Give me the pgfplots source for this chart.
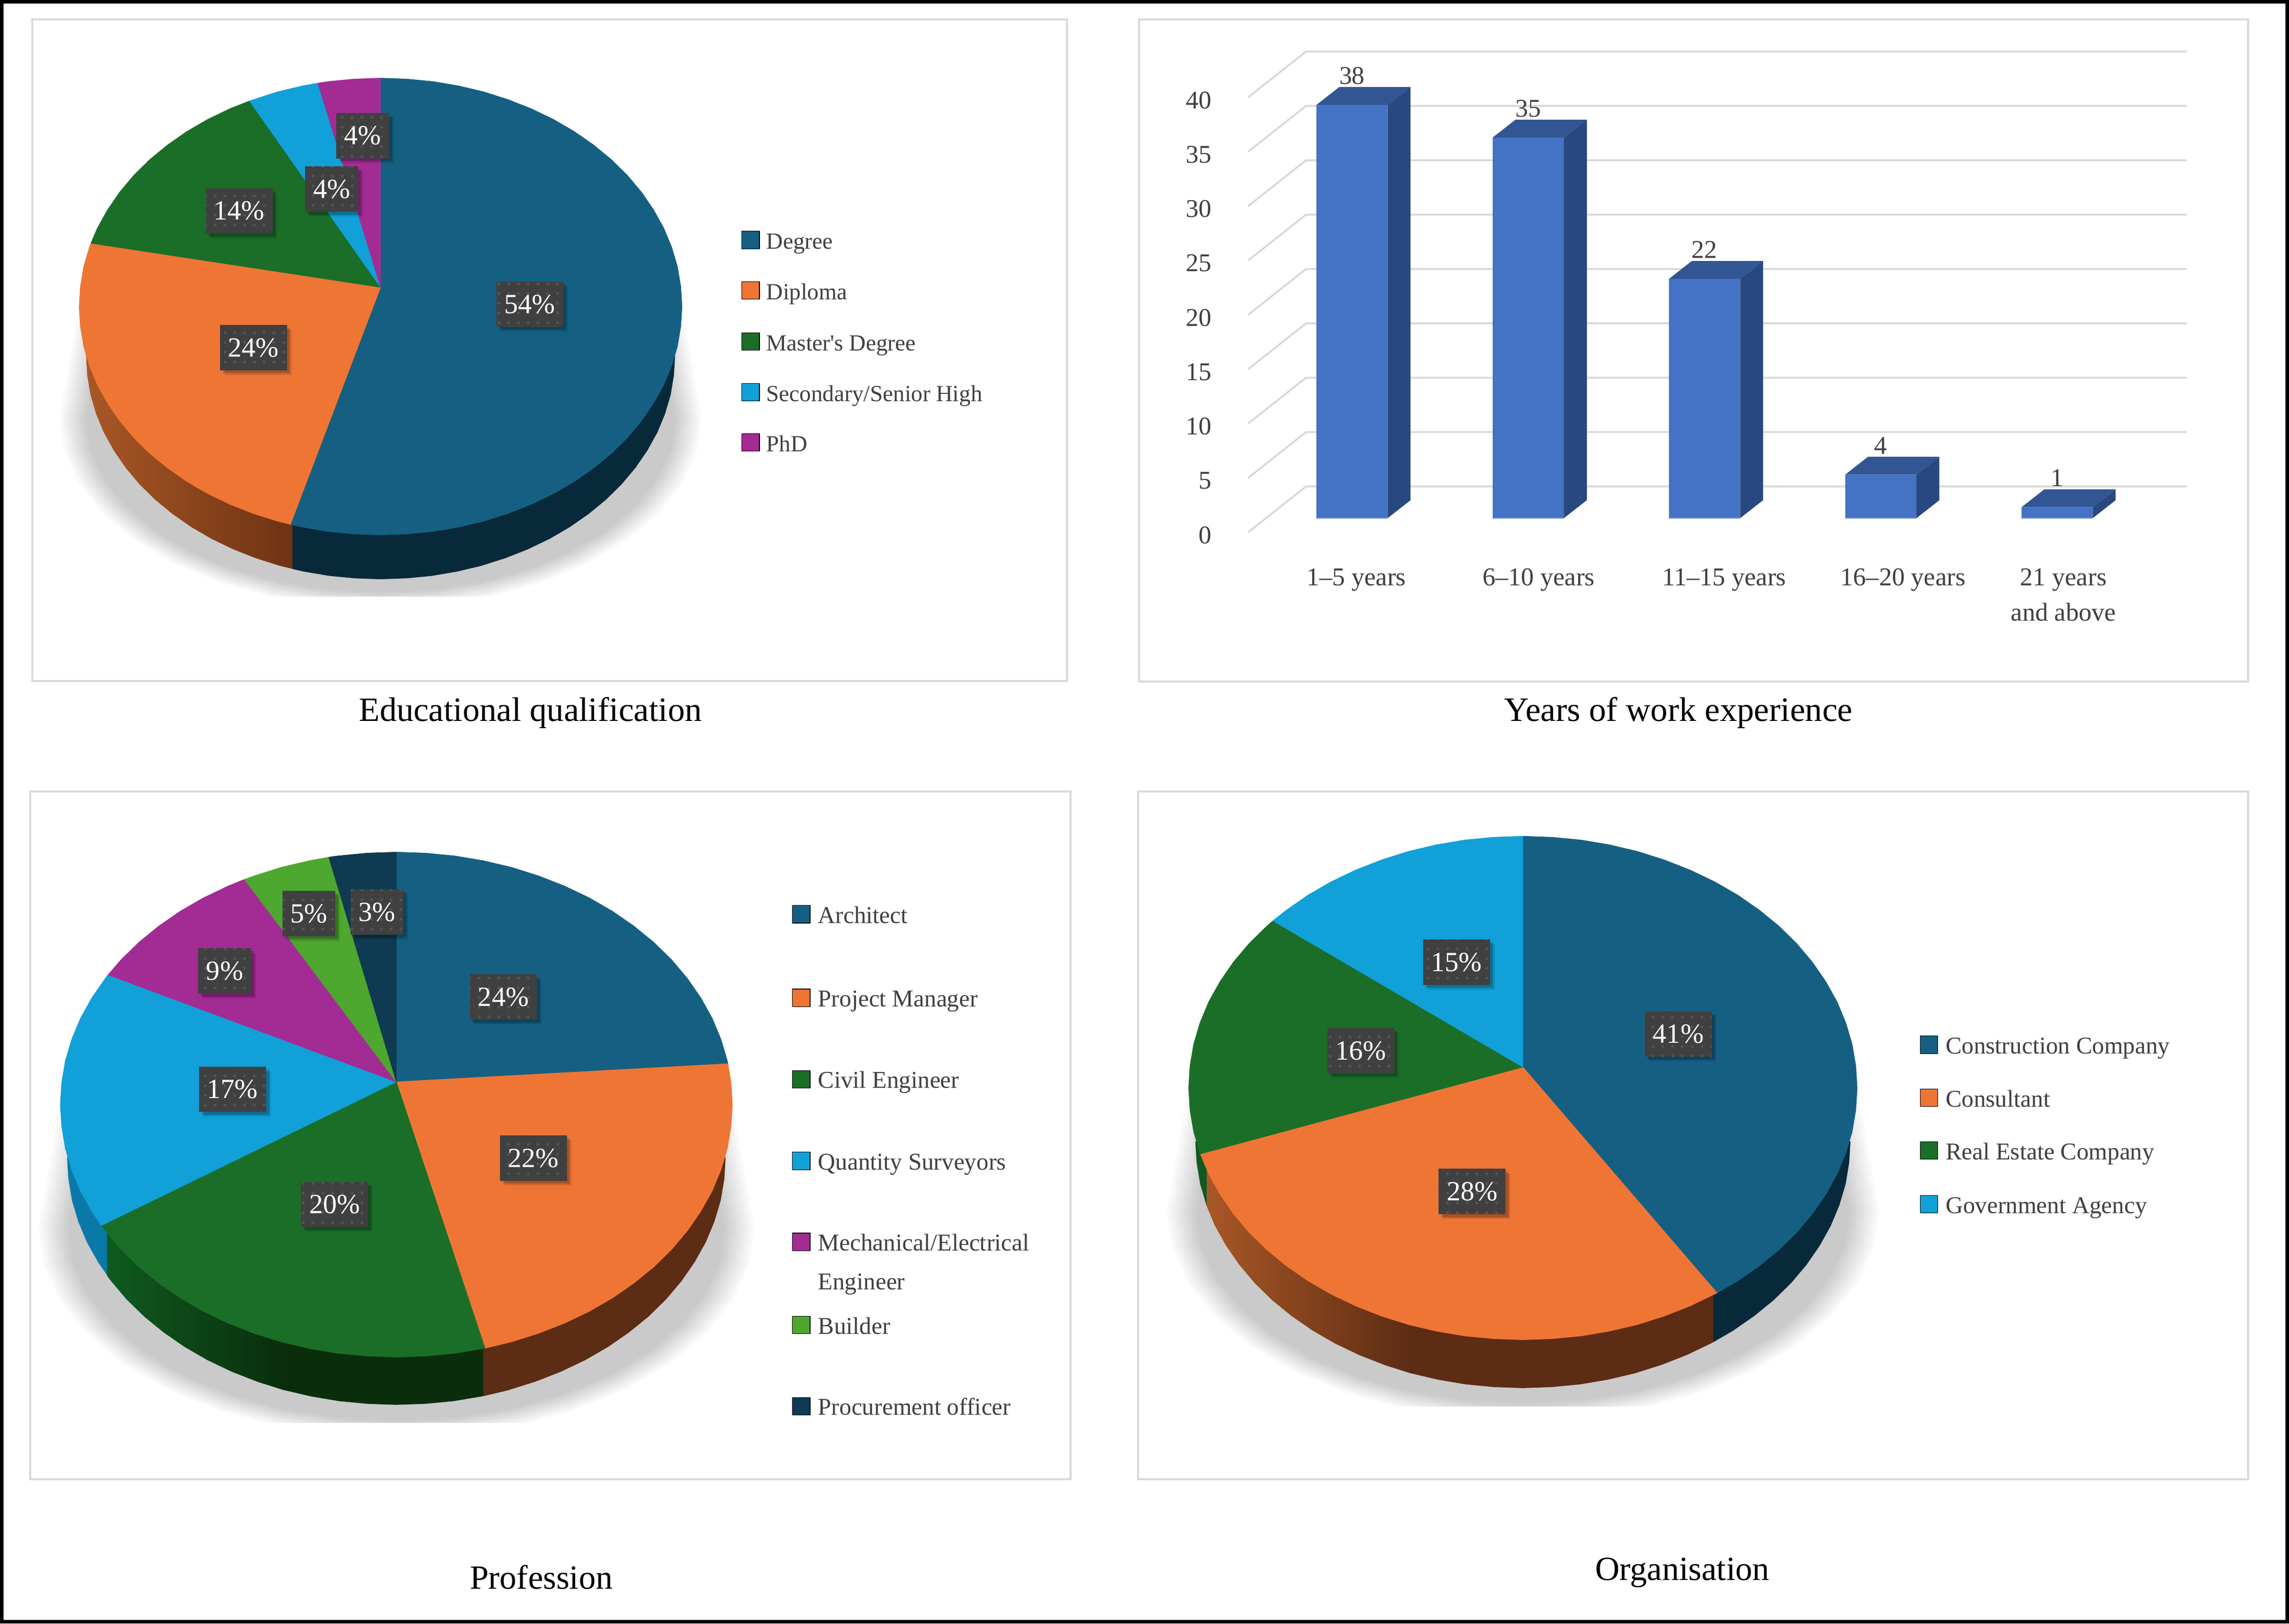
\documentclass[border=0pt]{standalone}
\usepackage{fontspec}
\setmainfont{Liberation Serif}[Ligatures=TeXOff]
\usepackage{pgfplots}
\usepackage{pgfplotstable}
\pgfplotsset{compat=1.18}
\usetikzlibrary{shadows,patterns.meta}

\definecolor{cnavy}{HTML}{156082}
\definecolor{corange}{HTML}{EF7534}
\definecolor{cgreen}{HTML}{1B6E28}
\definecolor{cblue}{HTML}{11A0D8}
\definecolor{cpurple}{HTML}{A32B94}
\definecolor{clime}{HTML}{4EA72E}
\definecolor{cproc}{HTML}{0E3A52}
\definecolor{wnavy}{HTML}{07293A}
\definecolor{worangeL}{HTML}{A95726}
\definecolor{worangeM}{HTML}{6B3112}
\definecolor{worangeD}{HTML}{5C2C14}
\definecolor{wgreenL}{HTML}{0F5A20}
\definecolor{wgreenD}{HTML}{0A2E0C}
\definecolor{wblue}{HTML}{0B79A8}
\definecolor{panel}{HTML}{D9D9D9}
\definecolor{txt}{HTML}{404040}
\definecolor{boxgray}{HTML}{404040}
\definecolor{boxdot}{HTML}{545454}
\definecolor{barfront}{HTML}{4472C4}
\definecolor{bartop}{HTML}{325694}
\definecolor{barside}{HTML}{2A4880}
\definecolor{baredge}{HTML}{8FAADC}

% outline of the soft shadow under each pie
\pgfplotstableread{
c s
-.91 .88
-1 0
-.985 -.174
-.94 -.342
-.866 -.5
-.766 -.643
-.643 -.766
-.5 -.866
-.342 -.94
-.174 -.985
0 -1
.174 -.985
.342 -.94
.5 -.866
.643 -.766
.766 -.643
.866 -.5
.94 -.342
.985 -.174
1 0
.91 .88
}\shadowtab

\pgfplotsset{
  canvas/.style={at={(0pt,0pt)},anchor=south west,scale only axis,width=1568pt,height=1112.3pt,
    xmin=0,xmax=1568,ymin=0,ymax=1112.3,y dir=reverse,hide axis,clip=false},
  pie/.style={anchor=south west,scale only axis,hide axis,xmin=-1.08,xmax=1.08,ymax=1.05},
  panelline/.style={draw=panel,line width=1.3pt},
}

\newcommand{\shadowlayers}{%
  \pgfplotsinvokeforeach{0.92,0.93,0.94,0.95,0.96,0.97,0.98,0.99,1}{
    \addplot[draw=none,fill=black,fill opacity=.024] table[x expr=\thisrow{c}*##1*1.065,y expr=\thisrow{s}*##1*.83-.49] {\shadowtab} --cycle;
  }%
}
\newcommand{\legitem}[6][16.5]{%
  \addplot[only marks,mark=square*,mark size=6pt,mark options={draw=none,fill=#2}] coordinates {(#3,#5)};
  \node[anchor=base west,inner sep=0pt,text=txt,font=\fontsize{#1}{#1}\selectfont] at (axis cs:#4,#5+6.2) {#6};
}
\newcommand{\pct}[3]{%
  \node[drop shadow={shadow xshift=3.2pt,shadow yshift=-3.2pt,fill=black,opacity=.12},
    drop shadow={shadow xshift=2pt,shadow yshift=-2pt,fill=black,opacity=.2},
    preaction={fill=boxgray},pattern={Dots[radius=1pt,distance=6.7pt]},pattern color=boxdot,
    text=white,font=\fontsize{19}{19}\selectfont,minimum height=31pt,inner xsep=5.5pt,inner ysep=0pt] at (axis cs:#1,#2+.6) {#3\%};
}

\begin{document}
\begin{tikzpicture}

% panels and captions
\begin{axis}[canvas]
\addplot[fill=white,draw=none] coordinates {(0,0)(1568,0)(1568,1112.3)(0,1112.3)} --cycle;
\addplot[panelline] coordinates {(22.1,13.3)(730.8,13.3)(730.8,466.5)(22.1,466.5)} --cycle;
\addplot[panelline] coordinates {(780.2,13.3)(1539.9,13.3)(1539.9,467)(780.2,467)} --cycle;
\addplot[panelline] coordinates {(20.7,542.3)(733.3,542.3)(733.3,1013.5)(20.7,1013.5)} --cycle;
\addplot[panelline] coordinates {(779.7,542.3)(1539.9,542.3)(1539.9,1013.5)(779.7,1013.5)} --cycle;
\end{axis}

% Educational qualification
\begin{axis}[pie,at={(37.7pt,703.8pt)},width=446pt,height=362.8pt,ymin=-1.2684,
  wall/.style={draw=none,x filter/.expression={x*.977},y filter/.expression={y*.977-.217}}]
\shadowlayers
\addplot[wall,left color=worangeL,right color=worangeM] coordinates {(-1,0)(-.996,-.087)(-.985,-.174)(-.966,-.259)(-.94,-.342)(-.906,-.423)(-.866,-.5)(-.819,-.574)(-.766,-.643)(-.707,-.707)(-.643,-.766)(-.574,-.819)(-.5,-.866)(-.423,-.906)(-.342,-.94)(-.259,-.966)(-.259,0)} --cycle;
\addplot[wall,fill=wnavy] coordinates {(-.299,0)(-.299,-.954)(-.259,-.966)(-.174,-.985)(-.087,-.996)(0,-1)(.087,-.996)(.174,-.985)(.259,-.966)(.342,-.94)(.423,-.906)(.5,-.866)(.574,-.819)(.643,-.766)(.707,-.707)(.766,-.643)(.819,-.574)(.866,-.5)(.906,-.423)(.94,-.342)(.966,-.259)(.985,-.174)(.996,-.087)(1,0)} --cycle;
\addplot[fill=cnavy,draw=cnavy,line width=.3pt] coordinates {(0,.084)(0,1)(.087,.996)(.174,.985)(.259,.966)(.342,.94)(.423,.906)(.5,.866)(.574,.819)(.643,.766)(.707,.707)(.766,.643)(.819,.574)(.866,.5)(.906,.423)(.94,.342)(.966,.259)(.985,.174)(.996,.087)(1,0)(.996,-.087)(.985,-.174)(.966,-.259)(.94,-.342)(.906,-.423)(.866,-.5)(.819,-.574)(.766,-.643)(.707,-.707)(.643,-.766)(.574,-.819)(.5,-.866)(.423,-.906)(.342,-.94)(.259,-.966)(.174,-.985)(.087,-.996)(0,-1)(-.087,-.996)(-.174,-.985)(-.259,-.966)(-.299,-.954)} --cycle;
\addplot[fill=corange,draw=corange,line width=.3pt] coordinates {(0,.084)(-.299,-.954)(-.342,-.94)(-.423,-.906)(-.5,-.866)(-.574,-.819)(-.643,-.766)(-.707,-.707)(-.766,-.643)(-.819,-.574)(-.866,-.5)(-.906,-.423)(-.94,-.342)(-.966,-.259)(-.985,-.174)(-.996,-.087)(-1,0)(-.996,.087)(-.985,.174)(-.966,.259)(-.961,.277)} --cycle;
\addplot[fill=cgreen,draw=cgreen,line width=.3pt] coordinates {(0,.084)(-.961,.277)(-.94,.342)(-.906,.423)(-.866,.5)(-.819,.574)(-.766,.643)(-.707,.707)(-.643,.766)(-.574,.819)(-.5,.866)(-.435,.9)} --cycle;
\addplot[fill=cblue,draw=cblue,line width=.3pt] coordinates {(0,.084)(-.435,.9)(-.342,.94)(-.259,.966)(-.208,.978)} --cycle;
\addplot[fill=cpurple,draw=cpurple,line width=.3pt] coordinates {(0,.084)(-.208,.978)(-.174,.985)(-.087,.996)(0,1)} --cycle;
\end{axis}

% Profession
\begin{axis}[pie,at={(22.9pt,137.7pt)},width=497.2pt,height=399.45pt,ymin=-1.259,
  wall/.style={draw=none,x filter/.expression={x*.98},y filter/.expression={y*.98-.209}}]
\shadowlayers
\addplot[wall,fill=wblue] coordinates {(-1,0)(-.996,-.087)(-.985,-.174)(-.966,-.259)(-.94,-.342)(-.906,-.423)(-.866,-.5)(-.819,-.574)(-.819,0)} --cycle;
\addplot[wall,fill=wgreenD] coordinates {(-.423,0)(-.423,-.906)(-.342,-.94)(-.259,-.966)(-.174,-.985)(-.087,-.996)(0,-1)(.087,-.996)(.174,-.985)(.259,-.966)(.342,-.94)(.342,0)} --cycle;
\addplot[wall,left color=wgreenL,right color=wgreenD] coordinates {(-.878,0)(-.878,-.479)(-.866,-.5)(-.819,-.574)(-.766,-.643)(-.707,-.707)(-.643,-.766)(-.574,-.819)(-.5,-.866)(-.423,-.906)(-.342,-.94)(-.342,0)} --cycle;
\addplot[wall,fill=worangeD] coordinates {(.264,0)(.264,-.965)(.342,-.94)(.423,-.906)(.5,-.866)(.574,-.819)(.643,-.766)(.707,-.707)(.766,-.643)(.819,-.574)(.866,-.5)(.906,-.423)(.94,-.342)(.966,-.259)(.985,-.174)(.996,-.087)(1,0)} --cycle;
\addplot[fill=cnavy,draw=cnavy,line width=.3pt] coordinates {(0,.09)(0,1)(.087,.996)(.174,.985)(.259,.966)(.342,.94)(.423,.906)(.5,.866)(.574,.819)(.643,.766)(.707,.707)(.766,.643)(.819,.574)(.866,.5)(.906,.423)(.94,.342)(.966,.259)(.985,.174)(.987,.162)} --cycle;
\addplot[fill=corange,draw=corange,line width=.3pt] coordinates {(0,.09)(.987,.162)(.996,.087)(1,0)(.996,-.087)(.985,-.174)(.966,-.259)(.94,-.342)(.906,-.423)(.866,-.5)(.819,-.574)(.766,-.643)(.707,-.707)(.643,-.766)(.574,-.819)(.5,-.866)(.423,-.906)(.342,-.94)(.264,-.965)} --cycle;
\addplot[fill=cgreen,draw=cgreen,line width=.3pt] coordinates {(0,.09)(.264,-.965)(.174,-.985)(.087,-.996)(0,-1)(-.087,-.996)(-.174,-.985)(-.259,-.966)(-.342,-.94)(-.423,-.906)(-.5,-.866)(-.574,-.819)(-.643,-.766)(-.707,-.707)(-.766,-.643)(-.819,-.574)(-.866,-.5)(-.878,-.479)} --cycle;
\addplot[fill=cblue,draw=cblue,line width=.3pt] coordinates {(0,.09)(-.878,-.479)(-.906,-.423)(-.94,-.342)(-.966,-.259)(-.985,-.174)(-.996,-.087)(-1,0)(-.996,.087)(-.985,.174)(-.966,.259)(-.94,.342)(-.906,.423)(-.866,.5)(-.858,.514)} --cycle;
\addplot[fill=cpurple,draw=cpurple,line width=.3pt] coordinates {(0,.09)(-.858,.514)(-.819,.574)(-.766,.643)(-.707,.707)(-.643,.766)(-.574,.819)(-.5,.866)(-.452,.892)} --cycle;
\addplot[fill=clime,draw=clime,line width=.3pt] coordinates {(0,.09)(-.452,.892)(-.423,.906)(-.342,.94)(-.259,.966)(-.201,.98)} --cycle;
\addplot[fill=cproc,draw=cproc,line width=.3pt] coordinates {(0,.09)(-.201,.98)(-.174,.985)(-.087,.996)(0,1)} --cycle;
\end{axis}

% Organisation
\begin{axis}[pie,at={(795.9pt,148.9pt)},width=494.6pt,height=399.1pt,ymin=-1.2638,
  wall/.style={draw=none,x filter/.expression={x*.98},y filter/.expression={y*.98-.212}}]
\shadowlayers
\addplot[wall,fill=wgreenL] coordinates {(-1,0)(-.996,-.087)(-.985,-.174)(-.966,-.259)(-.94,-.342)(-.94,0)} --cycle;
\addplot[wall,fill=worangeD] coordinates {(-.423,0)(-.423,-.906)(-.342,-.94)(-.259,-.966)(-.174,-.985)(-.087,-.996)(0,-1)(.087,-.996)(.174,-.985)(.259,-.966)(.342,-.94)(.423,-.906)(.5,-.866)(.574,-.819)(.643,-.766)(.643,0)} --cycle;
\addplot[wall,left color=worangeL,right color=worangeD] coordinates {(-.965,0)(-.965,-.262)(-.94,-.342)(-.906,-.423)(-.866,-.5)(-.819,-.574)(-.766,-.643)(-.707,-.707)(-.643,-.766)(-.574,-.819)(-.5,-.866)(-.423,-.906)(-.342,-.94)(-.342,0)} --cycle;
\addplot[wall,fill=wnavy] coordinates {(.581,0)(.581,-.814)(.643,-.766)(.707,-.707)(.766,-.643)(.819,-.574)(.866,-.5)(.906,-.423)(.94,-.342)(.966,-.259)(.985,-.174)(.996,-.087)(1,0)} --cycle;
\addplot[fill=cnavy,draw=cnavy,line width=.3pt] coordinates {(0,.083)(0,1)(.087,.996)(.174,.985)(.259,.966)(.342,.94)(.423,.906)(.5,.866)(.574,.819)(.643,.766)(.707,.707)(.766,.643)(.819,.574)(.866,.5)(.906,.423)(.94,.342)(.966,.259)(.985,.174)(.996,.087)(1,0)(.996,-.087)(.985,-.174)(.966,-.259)(.94,-.342)(.906,-.423)(.866,-.5)(.819,-.574)(.766,-.643)(.707,-.707)(.643,-.766)(.581,-.814)} --cycle;
\addplot[fill=corange,draw=corange,line width=.3pt] coordinates {(0,.083)(.581,-.814)(.5,-.866)(.423,-.906)(.342,-.94)(.259,-.966)(.174,-.985)(.087,-.996)(0,-1)(-.087,-.996)(-.174,-.985)(-.259,-.966)(-.342,-.94)(-.423,-.906)(-.5,-.866)(-.574,-.819)(-.643,-.766)(-.707,-.707)(-.766,-.643)(-.819,-.574)(-.866,-.5)(-.906,-.423)(-.94,-.342)(-.965,-.262)} --cycle;
\addplot[fill=cgreen,draw=cgreen,line width=.3pt] coordinates {(0,.083)(-.965,-.262)(-.985,-.174)(-.996,-.087)(-1,0)(-.996,.087)(-.985,.174)(-.966,.259)(-.94,.342)(-.906,.423)(-.866,.5)(-.819,.574)(-.766,.643)(-.748,.664)} --cycle;
\addplot[fill=cblue,draw=cblue,line width=.3pt] coordinates {(0,.083)(-.748,.664)(-.707,.707)(-.643,.766)(-.574,.819)(-.5,.866)(-.423,.906)(-.342,.94)(-.259,.966)(-.174,.985)(-.087,.996)(0,1)} --cycle;
\end{axis}

% Years of work experience
\begin{axis}[at={(855pt,745.3pt)},anchor=south west,scale only axis,width=643pt,height=340pt,
  xmin=-.589,xmax=4.736,ymin=-1.611,ymax=44.03,clip=false,
  axis x line*=bottom,axis y line*=left,axis line style={draw=none},tick style={draw=none},
  ytick={0,5,10,15,20,25,30,35,40},
  xtick={.025,1.06,2.112,3.126,4.036},
  xticklabels={1–5 years,6–10 years,11–15 years,16–20 years,{21 years\\and above}},
  /pgf/number format/assume math mode=true,
  ticklabel style={text=txt},
  yticklabel style={font=\fontsize{17.5}{17.5}\selectfont,xshift=-21.5pt,yshift=-11.6pt},
  xticklabel style={font=\fontsize{17.6}{24.3}\selectfont,align=center,yshift=-19pt},
  every node near coord/.append style={anchor=center,yshift=20pt,text=txt,font=\fontsize{17.5}{17.5}\selectfont},
  unbounded coords=jump]
\addplot[draw=panel,line width=1.3pt] table {
x y
-.589 -1.3
-.261 2.91
4.736 2.91
0 nan
-.589 3.7
-.261 7.91
4.736 7.91
0 nan
-.589 8.7
-.261 12.91
4.736 12.91
0 nan
-.589 13.7
-.261 17.91
4.736 17.91
0 nan
-.589 18.7
-.261 22.91
4.736 22.91
0 nan
-.589 23.7
-.261 27.91
4.736 27.91
0 nan
-.589 28.7
-.261 32.91
4.736 32.91
0 nan
-.589 33.7
-.261 37.91
4.736 37.91
0 nan
-.589 38.7
-.261 42.91
4.736 42.91
};
% side faces
\addplot[fill=barside,draw=none] coordinates {(.202,0)(.202,38)(.332,39.65)(.332,1.65)} --cycle;
\addplot[fill=barside,draw=none] coordinates {(1.202,0)(1.202,35)(1.332,36.65)(1.332,1.65)} --cycle;
\addplot[fill=barside,draw=none] coordinates {(2.202,0)(2.202,22)(2.332,23.65)(2.332,1.65)} --cycle;
\addplot[fill=barside,draw=none] coordinates {(3.202,0)(3.202,4)(3.332,5.65)(3.332,1.65)} --cycle;
\addplot[fill=barside,draw=none] coordinates {(4.202,0)(4.202,1)(4.332,2.65)(4.332,1.65)} --cycle;
% top faces
\addplot[fill=bartop,draw=none] coordinates {(-.202,38)(.202,38)(.332,39.65)(-.072,39.65)} --cycle;
\addplot[fill=bartop,draw=none] coordinates {(.798,35)(1.202,35)(1.332,36.65)(.928,36.65)} --cycle;
\addplot[fill=bartop,draw=none] coordinates {(1.798,22)(2.202,22)(2.332,23.65)(1.928,23.65)} --cycle;
\addplot[fill=bartop,draw=none] coordinates {(2.798,4)(3.202,4)(3.332,5.65)(2.928,5.65)} --cycle;
\addplot[fill=bartop,draw=none] coordinates {(3.798,1)(4.202,1)(4.332,2.65)(3.928,2.65)} --cycle;
% front faces
\addplot[ybar,bar width=.404,bar shift=0pt,fill=barfront,draw=none,nodes near coords] coordinates {(0,38)(1,35)(2,22)(3,4)(4,1)};
\addplot[draw=baredge,line width=.8pt] table {
x y
-.202 0
.202 0
.5 nan
.798 0
1.202 0
1.5 nan
1.798 0
2.202 0
2.5 nan
2.798 0
3.202 0
3.5 nan
3.798 0
4.202 0
};
\end{axis}

% legends, value labels, captions, outer frame
\begin{axis}[canvas]
\legitem[15.8]{cnavy}{514.2}{524.8}{164.4}{Degree}
\legitem[15.8]{corange}{514.2}{524.8}{199}{Diploma}
\legitem[15.8]{cgreen}{514.2}{524.8}{234}{Master's Degree}
\legitem[15.8]{cblue}{514.2}{524.8}{268.8}{Secondary/Senior High}
\legitem[15.8]{cpurple}{514.2}{524.8}{303}{PhD}

\legitem{cnavy}{548.9}{560.2}{626.4}{Architect}
\legitem{corange}{548.9}{560.2}{683.6}{Project Manager}
\legitem{cgreen}{548.9}{560.2}{739.4}{Civil Engineer}
\legitem{cblue}{548.9}{560.2}{795.4}{Quantity Surveyors}
\legitem{cpurple}{548.9}{560.2}{850.8}{Mechanical/Electrical}
\node[anchor=base west,inner sep=0pt,text=txt,font=\fontsize{16.5}{16.5}\selectfont] at (axis cs:560.2,883.6) {Engineer};
\legitem{clime}{548.9}{560.2}{907.7}{Builder}
\legitem{cproc}{548.9}{560.2}{963.4}{Procurement officer}

\legitem{cnavy}{1321.4}{1332.6}{715.8}{Construction Company}
\legitem{corange}{1321.4}{1332.6}{752.1}{Consultant}
\legitem{cgreen}{1321.4}{1332.6}{788.3}{Real Estate Company}
\legitem{cblue}{1321.4}{1332.6}{825}{Government Agency}

\pct{362.9}{207.8}{54}
\pct{173.6}{237.6}{24}
\pct{163.8}{143.9}{14}
\pct{227.2}{129}{4}
\pct{248.4}{92.4}{4}

\pct{344.8}{682.5}{24}
\pct{365.4}{792.8}{22}
\pct{229.2}{824.6}{20}
\pct{159.3}{745.7}{17}
\pct{153.9}{664.6}{9}
\pct{211.5}{625.3}{5}
\pct{258.2}{624.2}{3}

\pct{1149.6}{707.9}{41}
\pct{1008.4}{815.7}{28}
\pct{932.2}{719.2}{16}
\pct{997.7}{658.6}{15}

\node[anchor=base,inner sep=0pt,font=\fontsize{23.3}{23.3}\selectfont] at (axis cs:363.3,494) {Educational qualification};
\node[anchor=base,inner sep=0pt,font=\fontsize{23.4}{23.4}\selectfont] at (axis cs:1149.8,494) {Years of work experience};
\node[anchor=base,inner sep=0pt,font=\fontsize{23.2}{23.2}\selectfont] at (axis cs:370.8,1088.5) {Profession};
\node[anchor=base,inner sep=0pt,font=\fontsize{23.2}{23.2}\selectfont] at (axis cs:1152.4,1082.5) {Organisation};

\addplot[draw=black,line width=2.6pt] coordinates {(1.3,1.3)(1566.7,1.3)(1566.7,1111)(1.3,1111)} --cycle;
\end{axis}
\end{tikzpicture}
\end{document}
